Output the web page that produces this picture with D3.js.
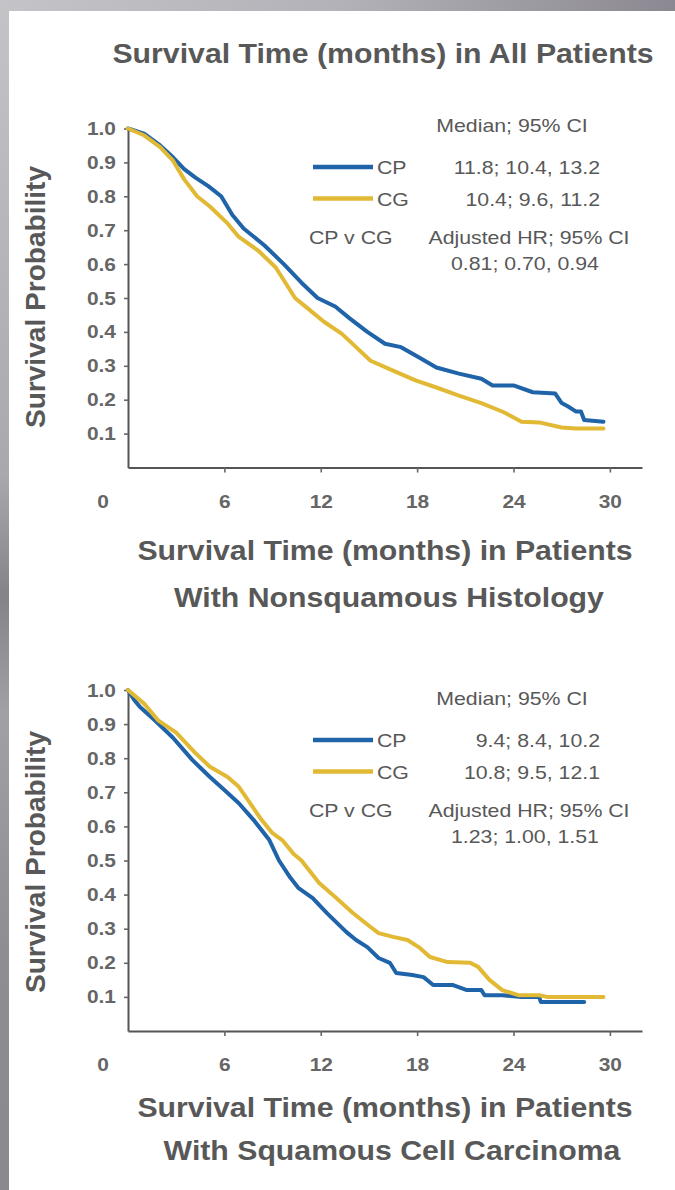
<!DOCTYPE html>
<html>
<head>
<meta charset="utf-8">
<script src="https://cdn.jsdelivr.net/npm/d3@7"></script>
<style>
  html, body { margin: 0; padding: 0; background: #fff; }
  svg { display: block; }
</style>
</head>
<body>
<svg id="fig" width="675" height="1190"></svg>
<script>
// ---- data -------------------------------------------------------------
const xTickValues = [6, 12, 18, 24, 30];
const originLabel = "0";
const yTickValues = [0.1, 0.2, 0.3, 0.4, 0.5, 0.6, 0.7, 0.8, 0.9, 1.0];
const seriesNames = ["CP", "CG"];

// Kaplan-Meier estimates, [month, survival probability]
const nonsqCP = [[0,1.0],[1,0.985],[2,0.95],[2.8,0.915],[3.5,0.88],[4.2,0.855],[5,0.83],[5.8,0.80],
  [6.5,0.745],[7.2,0.705],[8.5,0.655],[9.7,0.60],[10.8,0.545],[11.8,0.50],[12.9,0.475],[13.8,0.44],
  [14.9,0.40],[16.0,0.365],[17.0,0.355],[18.1,0.325],[19.2,0.295],[20.6,0.277],[22.0,0.262],
  [22.7,0.242],[24.0,0.242],[25.2,0.222],[26.6,0.218],[27.0,0.19],[27.4,0.18],[27.9,0.165],
  [28.2,0.165],[28.4,0.14],[29.6,0.135]];
const nonsqCG = [[0,1.0],[1,0.98],[2,0.945],[2.8,0.905],[3.5,0.85],[4.3,0.80],[5.1,0.77],[6.2,0.72],
  [6.9,0.68],[8.1,0.64],[9.2,0.59],[10.4,0.50],[11.3,0.465],[12.2,0.43],[13.3,0.395],[14.2,0.355],
  [15.1,0.315],[16.5,0.286],[17.9,0.257],[19.2,0.236],[20.6,0.212],[22.0,0.19],[23.4,0.163],
  [24.5,0.135],[25.6,0.133],[27.0,0.118],[27.9,0.115],[29.6,0.115]];
const squamCP = [[0,1.0],[0.4,0.97],[0.75,0.95],[1.7,0.91],[2.8,0.86],[4.0,0.795],[5.1,0.745],
  [6.0,0.707],[6.9,0.668],[7.8,0.62],[8.8,0.56],[9.4,0.50],[10.1,0.45],[10.6,0.42],[11.5,0.39],
  [12.4,0.345],[13.6,0.29],[14.2,0.267],[14.9,0.246],[15.6,0.214],[16.3,0.20],[16.7,0.17],
  [17.7,0.164],[18.4,0.158],[19.0,0.135],[20.2,0.135],[21.1,0.12],[22.0,0.12],[22.2,0.105],
  [23.3,0.105],[24.5,0.10],[25.6,0.10],[25.7,0.085],[28.4,0.085]];
const squamCG = [[0,1.0],[1.0,0.96],[1.9,0.91],[3.0,0.875],[4.2,0.815],[5.1,0.775],[6.2,0.745],
  [6.9,0.716],[7.6,0.668],[8.3,0.62],[9.0,0.58],[9.6,0.56],[10.3,0.52],[10.8,0.50],[11.9,0.434],
  [12.9,0.393],[14.0,0.346],[15.1,0.305],[15.6,0.287],[16.5,0.276],[17.4,0.267],[18.1,0.246],
  [18.8,0.217],[19.9,0.202],[21.3,0.20],[21.8,0.188],[22.5,0.15],[23.3,0.12],[24.3,0.105],
  [25.6,0.105],[26.1,0.10],[29.6,0.10]];

const medianHeader = "Median; 95% CI";
const hrHeader = "Adjusted HR; 95% CI";
const comparison = "CP v CG";
const nonsqMedians = ["11.8; 10.4, 13.2", "10.4; 9.6, 11.2"];
const nonsqHR = "0.81; 0.70, 0.94";
const squamMedians = ["9.4;  8.4, 10.2", "10.8; 9.5, 12.1"];
const squamHR = "1.23; 1.00, 1.51";

const topTitle = "Survival Time (months) in All Patients";
const yAxisTitle = "Survival Probability";
const nonsqTitle = ["Survival Time (months) in Patients", "With Nonsquamous Histology"];
const squamTitle = ["Survival Time (months) in Patients", "With Squamous Cell Carcinoma"];

// ---- styling ----------------------------------------------------------
const FONT = "'Liberation Sans', Arial, Helvetica, sans-serif";
const colors = { CP: "#1f63a8", CG: "#e1b934" };
const TEXT = "#585858";
const AXIS = "#555";
const W = 675, H = 1190;

const svg = d3.select("#fig");

// grey slide border on the top and left edges
const defs = svg.append("defs");
const topBand = defs.append("linearGradient").attr("id", "topBand")
  .attr("x1", 0).attr("x2", 1).attr("y1", 0).attr("y2", 0);
[["0", "#c4c3c8"], ["0.5", "#b3b2b8"], ["1", "#8b8891"]].forEach(([o, c]) =>
  topBand.append("stop").attr("offset", o).attr("stop-color", c));
const leftBand = defs.append("linearGradient").attr("id", "leftBand")
  .attr("x1", 0).attr("x2", 0).attr("y1", 0).attr("y2", 1);
[["0", "#c4c3c8"], ["0.4", "#a9a8ae"], ["0.5", "#85838a"], ["0.6", "#a2a0a7"], ["0.8", "#8f8d94"], ["1", "#8b898f"]]
  .forEach(([o, c]) => leftBand.append("stop").attr("offset", o).attr("stop-color", c));

svg.append("rect").attr("width", W).attr("height", H).attr("fill", "url(#leftBand)");
svg.append("rect").attr("width", W).attr("height", 11).attr("fill", "url(#topBand)");
svg.append("rect").attr("x", 9).attr("y", 11).attr("width", W - 9).attr("height", H - 11).attr("fill", "#fff");

// widen glyphs horizontally so the lettering keeps its slide proportions
function stretch(sel, k) {
  sel.each(function () {
    const L = this.getComputedTextLength();
    d3.select(this).attr("textLength", L * k).attr("lengthAdjust", "spacingAndGlyphs");
  });
}

function label(parent, str, x, y, opt = {}) {
  const t = parent.append("text")
    .attr("x", x).attr("y", y).text(str)
    .attr("font-family", FONT)
    .attr("font-size", opt.size || 19)
    .attr("font-weight", opt.weight || "normal")
    .attr("fill", opt.fill || TEXT)
    .attr("text-anchor", opt.anchor || "start");
  if (opt.rotate) t.attr("transform", `rotate(${opt.rotate},${x},${y})`);
  stretch(t, opt.k || 1.12);
  return t;
}

// shared month scale
const x = d3.scaleLinear().domain([0, 32]).range([128, 642]);

label(svg, topTitle, 383, 63, { size: 27, weight: "bold", anchor: "middle" });

function panel(cfg) {
  const g = svg.append("g");
  const y = d3.scaleLinear().domain([0, 1]).range([cfg.y0, cfg.y1]);

  // axes
  const gx = g.append("g").attr("transform", `translate(0,${y(0)})`)
    .call(d3.axisBottom(x).tickValues(xTickValues).tickSize(5).tickSizeOuter(0).tickPadding(22));
  const gy = g.append("g").attr("transform", `translate(${x(0)},0)`)
    .call(d3.axisLeft(y).tickValues(yTickValues).tickSize(4).tickSizeOuter(0).tickPadding(8)
      .tickFormat(d3.format(".1f")));
  [gx, gy].forEach(a => {
    a.select(".domain").attr("stroke", AXIS).attr("stroke-width", 2);
    a.selectAll(".tick line").attr("stroke", "#666").attr("stroke-width", 1.6);
    a.selectAll(".tick text").attr("font-family", FONT).attr("font-size", 19)
      .attr("font-weight", "bold").attr("fill", "#666");
    stretch(a.selectAll(".tick text"), 1.1);
  });
  g.append("text").attr("x", x(0) - 25).attr("y", y(0) + 27).attr("dy", "0.71em")
    .attr("text-anchor", "middle").attr("font-family", FONT).attr("font-size", 19)
    .attr("font-weight", "bold").attr("fill", "#666").text(originLabel)
    .call(stretch, 1.1);

  // survival curves
  const line = d3.line().x(d => x(d[0])).y(d => y(d[1])).curve(d3.curveLinear);
  cfg.series.forEach((s, i) => {
    g.append("path").datum(s).attr("d", line)
      .attr("fill", "none").attr("stroke", colors[seriesNames[i]])
      .attr("stroke-width", 4).attr("stroke-linejoin", "round").attr("stroke-linecap", "round");
  });

  // legend / statistics block
  const ly = cfg.legendY;
  label(g, medianHeader, 512, ly - 42 + 7, { anchor: "middle" });
  seriesNames.forEach((name, i) => {
    const ry = ly + i * 31.5;
    g.append("line").attr("x1", 313).attr("x2", 373).attr("y1", ry).attr("y2", ry)
      .attr("stroke", colors[name]).attr("stroke-width", 4.5);
    label(g, name, 377, ry + 7);
    label(g, cfg.medians[i], 600, ry + 7, { anchor: "end" });
  });
  const hy = ly + 31.5 + 38.5;
  label(g, comparison, 309, hy + 7);
  label(g, hrHeader, 529, hy + 7, { anchor: "middle" });
  label(g, cfg.hr, 525, hy + 25.5 + 7, { anchor: "middle" });

  // titles
  label(g, yAxisTitle, 45, cfg.yTitleMid, { size: 27, weight: "bold", anchor: "middle", rotate: -90, k: 1.04 });
  cfg.title.forEach((t, i) => label(g, t, cfg.titleX[i], cfg.titleY[i], { size: 27, weight: "bold", anchor: "middle" }));
}

panel({
  y0: 467.5, y1: 128.5, series: [nonsqCP, nonsqCG],
  medians: nonsqMedians, hr: nonsqHR, legendY: 167,
  yTitleMid: 297, title: nonsqTitle, titleX: [385, 389], titleY: [560, 607]
});
panel({
  y0: 1031, y1: 690, series: [squamCP, squamCG],
  medians: squamMedians, hr: squamHR, legendY: 740,
  yTitleMid: 862, title: squamTitle, titleX: [385, 392], titleY: [1117, 1160]
});
</script>
</body>
</html>
